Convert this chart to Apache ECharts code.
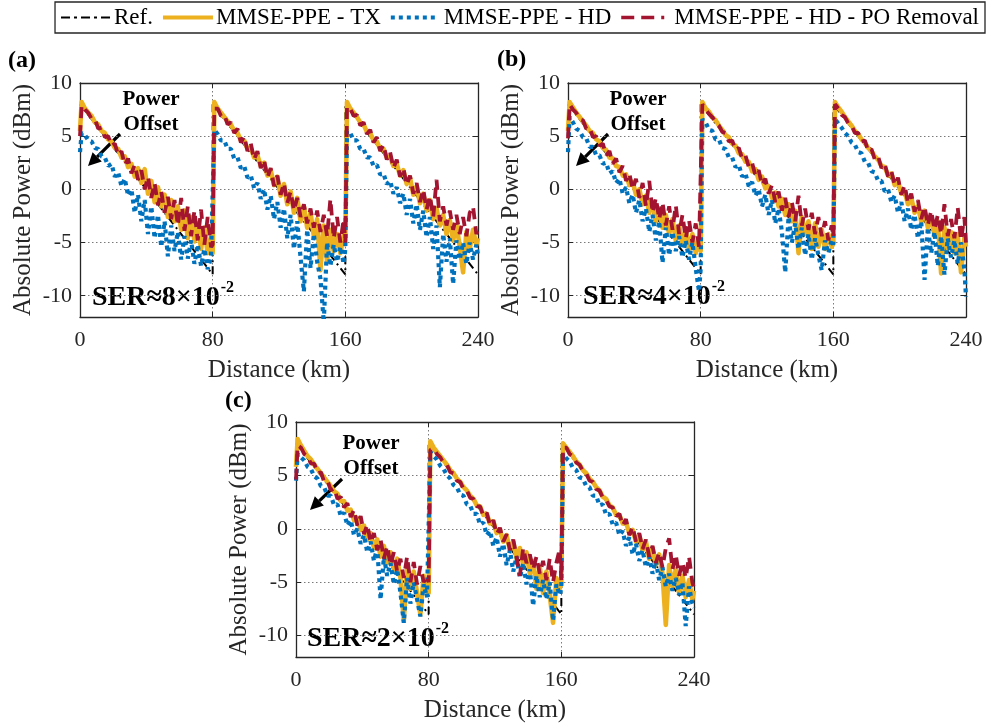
<!DOCTYPE html>
<html><head><meta charset="utf-8">
<script src="https://cdn.jsdelivr.net/npm/echarts@6/dist/echarts.min.js"></script>
<style>html,body{margin:0;padding:0;background:#fff}#c{width:987px;height:725px}</style>
</head><body><div id="c"></div><script>
// Distance sampling grid (km)
const dist = [0,1,3,5,7,9,11,13,15,17,19,21,23,25,27,29,31,33,35,37,39,41,43,45,47,49,51,53,55,57,59,61,63,65,67,69,71,73,75,77,79,
80,81,83,85,87,89,91,93,95,97,99,101,103,105,107,109,111,113,115,117,119,121,123,125,127,129,131,133,135,137,139,141,143,145,147,149,151,153,155,157,159,
160,161,163,165,167,169,171,173,175,177,179,181,183,185,187,189,191,193,195,197,199,201,203,205,207,209,211,213,215,217,219,221,223,225,227,229,231,233,235,237,239,240];

// Reference profile
const refX = [0,80,80,160,160,240];
const refY = [8,-8,8,-8,8,-8];

// Panel (a)  SER ~ 8e-2
const aTX = [5.5,8.2,7.6,7.2,6.9,6.3,6.1,5.5,5.3,4.7,4.5,3.9,3.8,3.0,3.1,2.1,2.4,1.2,2.0,0.6,1.9,-0.4,0.8,-1.2,0.2,-1.6,-0.5,-2.6,-1.0,-3.0,-1.6,-3.8,-2.0,-4.6,-2.6,-4.9,-3.2,-5.6,-3.6,-6.0,-4.4,
-6.0,8.2,7.6,7.2,6.8,6.4,6.1,5.5,5.3,4.6,4.6,3.8,3.9,3.0,3.2,2.2,2.5,1.3,1.8,0.4,1.2,-0.6,0.5,-1.4,-0.2,-2.2,-0.8,-3.0,-1.6,-3.6,-2.2,-4.4,-2.8,-7.6,-3.4,-6.8,-3.8,-5.8,-4.2,-6.0,-4.4,
-4.8,8.2,7.6,7.2,6.8,6.3,6.1,5.4,5.3,4.6,4.5,3.8,3.8,3.0,3.1,2.2,2.4,1.3,1.8,0.5,1.1,-0.5,0.3,-1.3,-0.4,-2.0,-1.0,-2.8,-1.8,-3.4,-2.4,-4.2,-2.9,-4.8,-3.3,-5.4,-7.8,-4.0,-5.6,-3.8,-5.2,-4.6];
const aHD = [3.5,5.3,5.1,4.6,4.5,3.9,3.8,3.1,3.0,2.2,2.4,1.2,1.6,0.3,1.0,-0.6,0.0,-2.2,-0.5,-3.0,-1.0,-4.2,-1.6,-4.6,-2.4,-5.4,-3.0,-6.3,-3.4,-5.8,-4.0,-6.6,-4.4,-6.5,-4.8,-7.0,-5.2,-7.2,-5.6,-7.5,-6.4,
-6.4,5.6,5.2,4.6,4.6,3.8,3.8,2.9,3.0,2.0,2.2,1.1,1.3,0.1,0.6,-0.9,0.0,-1.9,-0.6,-2.8,-1.2,-3.6,-1.8,-4.6,-2.4,-5.6,-3.0,-6.4,-9.6,-3.8,-7.4,-4.2,-6.8,-8.4,-12.5,-5.0,-7.2,-5.2,-6.8,-5.4,-7.0,
-5.6,5.5,5.3,4.6,4.6,3.8,3.8,3.0,3.0,2.2,2.3,1.4,1.5,0.5,0.8,-0.4,0.2,-1.3,-0.4,-2.4,-0.9,-3.2,-1.4,-3.8,-2.0,-4.5,-2.6,-5.6,-3.4,-9.2,-4.2,-6.8,-4.6,-8.9,-4.8,-6.6,-5.0,-7.0,-5.0,-6.6,-5.2,-6.2];
const aPO = [5.0,7.9,7.5,7.2,6.6,6.6,5.7,5.8,4.9,5.0,4.1,4.3,3.2,3.6,2.3,2.9,1.5,2.3,0.9,1.8,0.0,1.2,-0.8,0.6,-1.5,-0.2,-2.2,-0.7,-2.8,-1.0,-3.4,-0.8,-3.9,-1.6,-4.4,-2.0,-4.8,-1.9,-5.2,-2.6,-5.4,
-5.2,7.6,7.6,6.9,7.0,6.1,6.3,5.3,5.7,4.4,5.0,3.6,4.3,2.8,3.6,2.0,2.8,1.1,2.0,0.3,1.3,-0.5,0.6,-1.3,-0.2,-2.0,-0.8,-2.6,-1.4,-3.2,-1.8,-3.6,-2.0,-4.0,-2.4,-4.4,-0.9,-4.6,-2.6,-5.0,-2.8,
-5.0,7.8,7.6,6.9,7.0,6.0,6.3,5.2,5.6,4.4,4.9,3.6,4.2,2.8,3.5,2.0,2.8,1.2,2.0,0.4,1.3,-0.4,0.6,-1.2,0.0,-1.9,-0.6,-2.6,0.9,-3.0,-1.6,-3.4,-2.0,-3.8,-2.4,-4.2,-2.6,-4.4,-2.2,-1.6,-4.2,-3.8];

// Panel (b)  SER ~ 4e-2
const bTX = [5.5,8.2,7.7,7.2,6.8,6.4,6.0,5.5,5.3,4.7,4.5,3.9,3.7,3.0,2.9,2.2,2.1,1.3,1.4,0.4,0.7,-0.5,0.0,-1.4,-0.6,-2.2,-1.2,-3.0,-1.8,-3.6,-2.4,-4.2,-2.8,-4.8,-3.4,-5.2,-3.8,-5.6,-4.2,-6.0,-4.6,
-5.8,8.2,7.6,7.3,6.8,6.5,6.0,5.6,5.1,4.9,4.3,4.1,3.4,3.3,2.6,2.6,1.7,1.9,0.9,1.2,0.1,0.3,-0.8,-0.3,-1.6,-0.9,-2.4,-1.4,-3.0,-2.0,-6.0,-2.6,-4.2,-3.0,-5.6,-3.2,-5.4,-3.8,-5.6,-4.2,-5.4,
-5.0,8.2,7.7,7.3,6.8,6.4,6.0,5.5,5.2,4.7,4.4,3.9,3.6,3.1,2.8,2.2,2.1,1.3,1.5,0.4,0.7,-0.4,-0.2,-1.4,-0.8,-2.2,-1.6,-3.0,-2.0,-3.6,-2.6,-4.4,-3.0,-7.9,-3.6,-5.6,-4.0,-6.0,-4.2,-7.8,-4.6,-5.4];
const bHD = [3.5,6.8,6.3,5.7,5.5,4.9,4.8,4.0,4.0,3.2,3.2,2.4,2.5,1.5,1.7,0.6,1.0,-0.4,0.2,-1.3,-0.5,-2.2,-1.0,-3.0,-1.8,-4.0,-2.4,-4.8,-3.0,-6.9,-3.6,-6.2,-4.0,-5.8,-4.4,-6.4,-4.8,-6.6,-5.0,-7.4,-9.6,
-7.5,6.6,6.3,5.6,5.5,4.7,4.7,3.9,3.8,3.0,3.0,2.1,2.3,1.2,1.5,0.3,0.7,-0.6,0.0,-1.6,-0.5,-2.4,-1.0,-3.2,-1.8,-4.0,-7.8,-2.6,-5.0,-3.2,-5.6,-3.6,-6.2,-4.2,-6.6,-4.6,-6.2,-7.6,-4.8,-6.0,-4.8,
-5.2,6.6,6.2,5.8,5.3,5.0,4.4,4.2,3.5,3.4,2.6,2.5,1.7,1.6,0.8,0.8,-0.2,0.0,-1.2,-0.6,-2.2,-1.2,-3.0,-1.8,-3.8,-2.4,-4.6,-3.0,-8.5,-3.6,-6.0,-4.0,-7.2,-4.4,-8.0,-4.6,-6.4,-4.8,-7.0,-5.0,-7.5,-10.1];
const bPO = [4.8,8.0,7.5,7.2,6.6,6.5,5.7,5.8,4.9,5.0,4.1,4.3,3.2,3.6,2.4,2.9,1.6,2.2,0.8,1.5,0.0,1.0,-0.8,0.6,-1.6,0.8,-2.2,-0.8,-2.8,-1.2,-3.4,-1.6,-3.8,-1.5,-4.2,-2.4,-4.6,-2.9,-5.0,-3.2,-5.4,
-5.4,8.0,7.5,7.1,6.8,6.3,6.0,5.4,5.3,4.5,4.6,3.7,3.9,2.9,3.2,2.1,2.5,1.3,1.8,0.4,1.0,-0.4,0.4,-1.2,-0.2,-2.0,-0.8,-2.6,-1.2,-3.0,-0.6,-3.4,-1.8,-3.8,-2.2,-4.2,-2.6,-4.4,-3.0,-4.8,-3.4,
-4.5,8.0,7.6,7.0,6.8,6.2,6.0,5.3,5.3,4.5,4.6,3.6,3.8,2.8,3.1,2.0,2.4,1.2,1.7,0.4,1.1,-0.5,0.4,-1.3,-0.4,-2.1,-1.0,-2.8,-1.6,-3.4,-2.0,-3.8,-2.4,-4.2,-1.4,-4.4,-2.8,-4.6,-1.7,-4.8,-2.6,-5.0];

// Panel (c)  SER ~ 2e-2
const cTX = [5.8,8.4,7.8,7.3,6.8,6.5,6.0,5.6,5.2,4.8,4.4,4.0,3.5,3.3,2.6,2.6,1.7,1.8,0.8,1.0,-0.1,0.3,-1.0,-0.4,-1.8,-1.0,-2.6,-1.6,-3.2,-2.2,-3.8,-2.8,-4.6,-8.6,-3.6,-5.6,-4.0,-6.0,-8.0,-4.4,-5.8,
-6.0,8.2,7.6,7.2,6.8,6.4,6.0,5.5,5.2,4.7,4.4,3.9,3.6,3.1,2.8,2.2,2.1,1.3,1.4,0.5,0.7,-0.4,-0.1,-1.2,-0.6,-2.0,-1.2,-2.8,-1.8,-3.4,-2.2,-4.2,-3.0,-5.6,-3.6,-6.0,-4.0,-6.2,-8.8,-4.6,-5.6,
-5.0,8.0,7.6,7.2,6.8,6.3,6.0,5.5,5.2,4.7,4.4,3.9,3.6,3.0,2.8,2.2,2.0,1.3,1.3,0.5,0.6,-0.4,-0.1,-1.2,-0.6,-2.0,-1.2,-2.8,-1.8,-3.4,-2.4,-4.2,-9.0,-3.4,-5.4,-3.8,-6.0,-4.4,-6.4,-4.8,-6.6,-5.8];
const cHD = [4.5,7.0,6.7,6.4,5.8,5.6,4.9,4.7,4.0,3.9,3.1,3.1,2.2,2.3,1.2,1.5,0.3,0.8,-0.6,0.0,-1.4,-0.6,-2.2,-1.2,-3.0,-1.8,-6.6,-2.6,-4.4,-3.2,-5.2,-3.8,-6.0,-8.8,-4.6,-7.0,-5.0,-6.6,-8.2,-5.2,-6.4,
-6.4,7.2,6.8,6.5,5.9,5.6,5.0,4.7,4.1,3.9,3.2,3.1,2.3,2.2,1.4,1.4,0.4,0.6,-0.6,-0.2,-1.6,-0.8,-2.6,-1.4,-3.4,-2.0,-4.0,-2.6,-4.6,-3.2,-5.2,-3.8,-7.2,-4.4,-6.4,-4.8,-6.6,-5.0,-8.6,-5.2,-6.2,
-5.6,7.0,6.6,6.3,5.7,5.5,4.8,4.7,4.0,3.9,3.1,3.1,2.2,2.3,1.3,1.4,0.4,0.6,-0.6,-0.2,-1.6,-0.8,-2.4,-1.4,-3.0,-2.0,-3.6,-2.6,-4.2,-3.0,-4.8,-3.6,-5.4,-4.2,-5.8,-4.6,-6.2,-5.0,-9.1,-5.4,-7.0,-7.4];
const cPO = [4.6,7.8,7.6,7.0,6.8,6.1,6.1,5.2,5.3,4.4,4.5,3.6,3.8,2.8,3.0,2.0,2.4,1.1,1.8,0.3,1.2,-0.5,0.4,-1.3,-0.4,-2.0,-1.0,-2.8,-1.6,-3.4,-2.2,-4.0,-2.8,-4.6,-2.6,-5.0,-3.1,-5.2,-3.5,-5.0,-4.4,
-5.0,7.4,7.5,7.0,6.7,6.1,6.0,5.3,5.2,4.5,4.4,3.7,3.6,2.9,2.8,2.1,2.1,1.2,1.5,0.3,0.8,-0.5,0.1,-1.2,-0.5,-2.0,-1.0,-2.6,-4.4,-1.8,-3.2,-2.4,-3.8,-2.6,-4.2,-3.0,-4.8,-2.8,-5.0,-3.2,-1.9,
-4.8,7.6,7.6,7.0,6.8,6.2,6.0,5.4,5.2,4.5,4.4,3.7,3.6,2.9,2.7,2.1,2.0,1.2,1.4,0.3,0.9,-0.6,0.2,-1.2,-0.4,-1.9,-1.0,-2.6,-1.6,-3.2,-2.2,-3.6,-1.8,-0.9,-3.8,-2.4,-4.4,-3.1,-4.6,-2.6,-5.0,-5.6];

const seriesNames = ['Ref.','MMSE-PPE - TX','MMSE-PPE - HD','MMSE-PPE - HD - PO Removal'];
const seriesColors = ['#000000','#EDB120','#0072BD','#A2142F'];
const panelLabels = ['(a)','(b)','(c)'];
const serMantissa = ['8','4','2'];
const xMax = 240;

const panels = [[aTX,aHD,aPO],[bTX,bHD,bPO],[cTX,cHD,cPO]];

const FF = '"Liberation Serif","Times New Roman",serif';
const grids = [
  {left:80, top:83, width:398, height:234},
  {left:568, top:83, width:398, height:234},
  {left:296, top:422, width:398, height:235}
];

const axisColor = '#262626';
const gridLine = {show:true, lineStyle:{type:[1.5,2.5], color:'#7a7a7a', width:1}};

const xAxes = [], yAxes = [], series = [];
grids.forEach((g,i)=>{
  xAxes.push({type:'value', gridIndex:i, min:0, max:xMax, interval:80, position:'bottom',
    axisLine:{show:true, onZero:false, lineStyle:{color:axisColor, width:1.3}},
    axisTick:{show:true, inside:true, length:5, lineStyle:{color:axisColor}},
    axisLabel:{fontFamily:FF, fontSize:22, color:axisColor, margin:12},
    splitLine:gridLine,
    name:'Distance (km)', nameLocation:'middle', nameGap:41,
    nameTextStyle:{fontFamily:FF, fontSize:25, color:axisColor}});
  xAxes.push({type:'value', gridIndex:i, min:0, max:xMax, interval:80, position:'top',
    axisLine:{show:true, onZero:false, lineStyle:{color:axisColor, width:1.3}},
    axisTick:{show:true, inside:true, length:5, lineStyle:{color:axisColor}},
    axisLabel:{show:false}, splitLine:{show:false}});
  yAxes.push({type:'value', gridIndex:i, min:-12, max:10, splitNumber:5, position:'left',
    axisLine:{show:true, onZero:false, lineStyle:{color:axisColor, width:1.3}},
    axisTick:{show:true, inside:true, length:5, lineStyle:{color:axisColor}},
    axisLabel:{fontFamily:FF, fontSize:22, color:axisColor, margin:8, showMinLabel:false},
    splitLine:gridLine,
    name:'Absolute Power (dBm)', nameLocation:'middle', nameGap:44,
    nameTextStyle:{fontFamily:FF, fontSize:25, color:axisColor}});
  yAxes.push({type:'value', gridIndex:i, min:-12, max:10, splitNumber:5, position:'right',
    axisLine:{show:true, onZero:false, lineStyle:{color:axisColor, width:1.3}},
    axisTick:{show:true, inside:true, length:5, lineStyle:{color:axisColor}},
    axisLabel:{show:false}, splitLine:{show:false}});

  const xi = 2*i, yi = 2*i;
  series.push({name:seriesNames[0], type:'line', xAxisIndex:xi, yAxisIndex:yi, symbol:'none', z:2,
    itemStyle:{color:seriesColors[0]},
    data: refX.map((d,k)=>[d, refY[k]]),
    lineStyle:{color:seriesColors[0], width:2, type:[8,4,2,4]}});
  series.push({name:seriesNames[1], type:'line', xAxisIndex:xi, yAxisIndex:yi, symbol:'none', z:3,
    itemStyle:{color:seriesColors[1]},
    data: dist.map((d,k)=>[d, panels[i][0][k]]),
    lineStyle:{color:seriesColors[1], width:4.6, type:'solid', join:'round'}});
  series.push({name:seriesNames[2], type:'line', xAxisIndex:xi, yAxisIndex:yi, symbol:'none', z:4,
    itemStyle:{color:seriesColors[2]},
    data: dist.map((d,k)=>[d, panels[i][1][k]]),
    lineStyle:{color:seriesColors[2], width:4.2, type:[4,4], cap:'butt'}});
  series.push({name:seriesNames[3], type:'line', xAxisIndex:xi, yAxisIndex:yi, symbol:'none', z:5,
    itemStyle:{color:seriesColors[3]},
    data: dist.map((d,k)=>[d, panels[i][2][k]]),
    lineStyle:{color:seriesColors[3], width:3.8, type:[11,7], cap:'butt'}});
});

// legend icons (line samples)
const legendIcons = [
  'path://M0 0L0 0M50 4L50 4M0 1h9v2h-9zM13 1h3v2h-3zM20 1h9v2h-9zM33 1h3v2h-3zM40 1h9v2h-9z',
  'path://M0 0h50v4h-50z',
  'path://M0 0L0 0M50 4L50 4M0 0h4v4h-4zM8 0h4v4h-4zM16 0h4v4h-4zM24 0h4v4h-4zM32 0h4v4h-4zM40 0h4v4h-4z',
  'path://M0 0L0 0M50 4L50 4M0 0.2h13v3.6h-13zM20 0.2h13v3.6h-13zM40 0.2h3v3.6h-3z'
];

// annotations
const ctx = document.createElement('canvas').getContext('2d');
const serFont = 'bold 28px "Liberation Serif"';
ctx.font = serFont;
const graphics = [];
const labelPos = [[8,61],[497,60],[225,401]];
const powerPos = [[151,100],[638,100],[371,444]];
const arrowPos = [[[120,134],[88,166]],[[608,134],[576,166]],[[342,479],[310,510]]];
const serPos = [[92,298],[583,297],[307,639]];

function arrow(p0, p1){
  const dx = p1[0]-p0[0], dy = p1[1]-p0[1];
  const L = Math.hypot(dx,dy), ux = dx/L, uy = dy/L;
  const hl = 13, hw = 6.5;
  const bx = p1[0]-ux*hl, by = p1[1]-uy*hl;
  return [
    {type:'line', shape:{x1:p0[0], y1:p0[1], x2:bx, y2:by}, style:{stroke:'#000', lineWidth:3.2}},
    {type:'polygon', shape:{points:[[p1[0],p1[1]],[bx-uy*hw, by+ux*hw],[bx+uy*hw, by-ux*hw]]}, style:{fill:'#000'}}
  ];
}

for (let i=0;i<3;i++){
  graphics.push({type:'text', x:labelPos[i][0], y:labelPos[i][1],
    style:{text:panelLabels[i], font:'bold 24px "Liberation Serif"', fill:'#000', textAlign:'left', textVerticalAlign:'middle'}});
  graphics.push({type:'text', x:powerPos[i][0], y:powerPos[i][1],
    style:{text:'Power', font:'bold 21px "Liberation Serif"', fill:'#000', textAlign:'center', textVerticalAlign:'middle'}});
  graphics.push({type:'text', x:powerPos[i][0], y:powerPos[i][1]+25,
    style:{text:'Offset', font:'bold 21px "Liberation Serif"', fill:'#000', textAlign:'center', textVerticalAlign:'middle'}});
  arrow(arrowPos[i][0], arrowPos[i][1]).forEach(g=>graphics.push(g));
  const main = 'SER\u2248' + serMantissa[i] + '\u00d710';
  const w = ctx.measureText(main).width;
  graphics.push({type:'text', x:serPos[i][0], y:serPos[i][1],
    style:{text:main, font:serFont, fill:'#000', textAlign:'left', textVerticalAlign:'middle'}});
  graphics.push({type:'text', x:serPos[i][0]+w+1, y:serPos[i][1]-10,
    style:{text:'-2', font:'bold 16px "Liberation Serif"', fill:'#000', textAlign:'left', textVerticalAlign:'middle'}});
}

const chart = echarts.init(document.getElementById('c'), null, {renderer:'canvas'});
chart.setOption({
  animation:false,
  backgroundColor:'#fff',
  grid: grids,
  xAxis: xAxes,
  yAxis: yAxes,
  legend:{
    data: seriesNames.map((n,k)=>({name:n, icon:legendIcons[k], itemStyle:{color:seriesColors[k], borderWidth:0}})),
    right:2, top:2, itemWidth:50, itemHeight:4, itemGap:10, symbolKeepAspect:false,
    itemStyle:{borderWidth:0},
    borderColor:'#262626', borderWidth:1.3, padding:[4,6,4,6], backgroundColor:'#fff',
    textStyle:{fontFamily:FF, fontSize:23, color:'#000', padding:[0,0,0,-2]}},
  series: series,
  graphic: graphics
});
</script></body></html>
